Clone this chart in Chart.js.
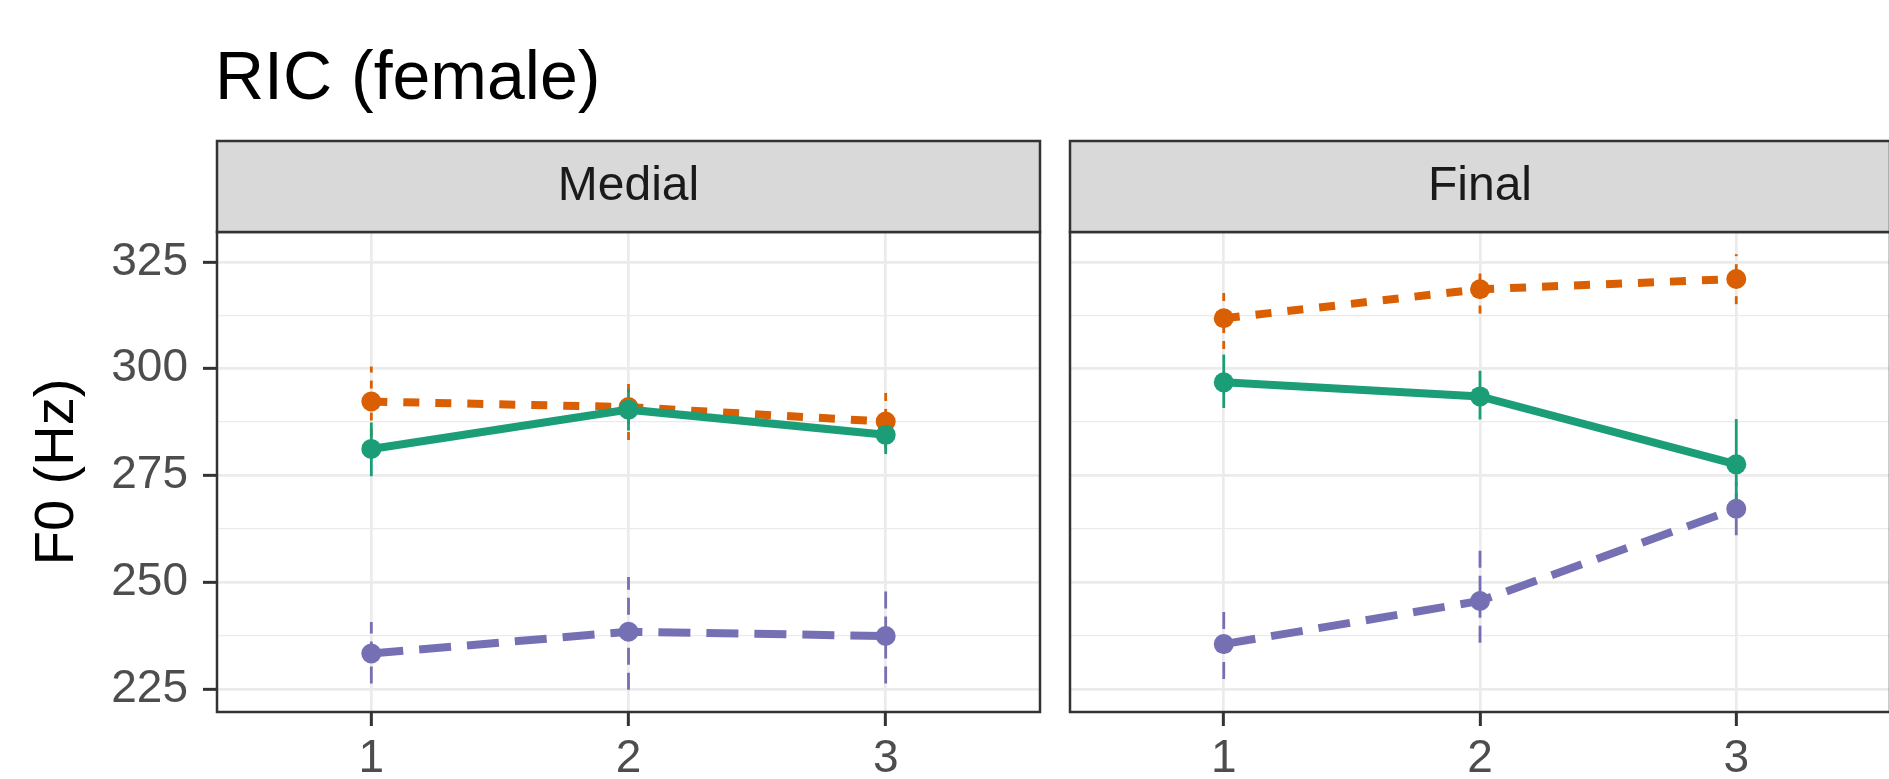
<!DOCTYPE html>
<html>
<head>
<meta charset="utf-8">
<script src="https://cdn.jsdelivr.net/npm/chart.js@4"></script>
<style>
  html, body { margin: 0; padding: 0; background: #fff; overflow: hidden; }
  #left { position: absolute; left: 0; top: 0; }
  #right { position: absolute; left: 1055px; top: 0; }
</style>
</head>
<body>
<canvas id="left" width="1055" height="779"></canvas>
<canvas id="right" width="845" height="779"></canvas>
<script>
// --- data ---
const plotTitle = 'RIC (female)';
const yTitle = 'F0 (Hz)';
const panels = ['Medial', 'Final'];
const positions = [1, 2, 3];
const xTickLabels = ['1', '2', '3'];
const yMajor = [225, 250, 275, 300, 325];
const yMinor = [237.5, 262.5, 287.5, 312.5];

// Medial
const medialGreen = [281.2, 290.4, 284.5];
const medialGreenLo = [274.8, 285.5, 280.0];
const medialGreenHi = [287.4, 295.3, 288.8];
const medialOrange = [292.3, 291.0, 287.6];
const medialOrangeLo = [284.1, 283.3, 281.2];
const medialOrangeHi = [300.5, 298.0, 294.5];
const medialPurple = [233.3, 238.4, 237.4];
const medialPurpleLo = [226.3, 224.8, 226.3];
const medialPurpleHi = [240.7, 251.2, 248.9];

// Final
const finalGreen = [296.8, 293.5, 277.6];
const finalGreenLo = [290.8, 288.1, 266.8];
const finalGreenHi = [303.3, 299.5, 288.2];
const finalOrange = [311.8, 318.6, 321.0];
const finalOrangeLo = [304.6, 312.9, 315.1];
const finalOrangeHi = [318.6, 324.1, 326.8];
const finalPurple = [235.5, 245.6, 267.2];
const finalPurpleLo = [227.3, 235.8, 261.0];
const finalPurpleHi = [243.3, 257.6, 273.4];

const styles = {
  green:  { color: '#1B9E77', dash: [],       errDash: [] },
  orange: { color: '#D95F02', dash: [16, 16], errDash: [8, 8] },
  purple: { color: '#7570B3', dash: [32, 16], errDash: [17, 8] }
};

Chart.defaults.font.family = '"Liberation Sans", Arial, sans-serif';

function buildDatasets(groups) {
  const lines = [], bars = [], points = [];
  groups.forEach(g => {
    const st = styles[g.key];
    const pts = positions.map((x, i) => ({ x: x, y: g.mean[i] }));
    lines.push({
      data: pts, borderColor: st.color, borderWidth: 8, borderDash: st.dash,
      pointRadius: 0, fill: false, order: 30
    });
    positions.forEach((x, i) => {
      bars.push({
        data: [{ x: x, y: g.lo[i] }, { x: x, y: g.hi[i] }],
        borderColor: st.color, borderWidth: 2.8, borderDash: st.errDash,
        pointRadius: 0, fill: false, order: 20
      });
    });
    points.push({
      data: pts, showLine: false, pointRadius: 10, pointBorderWidth: 0,
      pointBackgroundColor: st.color, borderColor: st.color, order: 10
    });
  });
  return lines.concat(bars, points);
}

// strip, panel border and title
const facetPlugin = {
  id: 'facet',
  afterDraw(chart, args, opts) {
    const { ctx, chartArea: a } = chart;
    const stripH = 91;
    ctx.save();
    ctx.strokeStyle = '#333333';
    ctx.lineWidth = 2.5;
    ctx.strokeRect(a.left, a.top, a.right - a.left, a.bottom - a.top);
    const top = a.top - stripH;
    ctx.fillStyle = '#D9D9D9';
    ctx.fillRect(a.left, top, a.right - a.left, stripH);
    ctx.strokeRect(a.left, top, a.right - a.left, stripH);
    ctx.fillStyle = '#1A1A1A';
    ctx.font = '48px "Liberation Sans", Arial, sans-serif';
    ctx.textAlign = 'center';
    ctx.textBaseline = 'middle';
    ctx.fillText(opts.strip, (a.left + a.right) / 2, top + stripH / 2);
    if (opts.title) {
      ctx.fillStyle = '#000000';
      ctx.font = '68px "Liberation Sans", Arial, sans-serif';
      ctx.textAlign = 'left';
      ctx.textBaseline = 'alphabetic';
      ctx.fillText(opts.title, a.left - 2, 99);
    }
    ctx.restore();
  }
};

const yTicks = yMajor.concat(yMinor).sort((a, b) => a - b);

function makeChart(id, panel, groups, first) {
  return new Chart(document.getElementById(id), {
    type: 'line',
    data: { datasets: buildDatasets(groups) },
    plugins: [facetPlugin],
    options: {
      responsive: false,
      animation: false,
      layout: { padding: { top: 232, right: first ? 15 : 6, left: 0, bottom: 0 } },
      plugins: {
        legend: { display: false },
        tooltip: { enabled: false },
        facet: { strip: panel, title: first ? plotTitle : null }
      },
      scales: {
        x: {
          type: 'linear', min: 0.4, max: 3.6,
          afterBuildTicks: s => { s.ticks = positions.map(v => ({ value: v })); },
          afterFit: s => { s.height = 67; },
          ticks: {
            autoSkip: false, maxRotation: 0, padding: 6,
            color: '#4D4D4D', font: { size: 46 },
            callback: (v, i) => xTickLabels[i]
          },
          grid: {
            color: '#EBEBEB', lineWidth: 2.7,
            tickLength: 14, tickColor: '#333333', tickWidth: 3
          },
          border: { display: false }
        },
        y: {
          type: 'linear', min: 219.6, max: 332,
          afterBuildTicks: s => { s.ticks = yTicks.map(v => ({ value: v })); },
          afterFit: s => { s.width = first ? 217 : 15; },
          ticks: {
            display: first, autoSkip: false, padding: 15,
            color: '#4D4D4D', font: { size: 46 },
            callback: v => yMajor.includes(v) ? String(v) : ''
          },
          grid: {
            color: '#EBEBEB',
            lineWidth: c => yMajor.includes(c.tick.value) ? 2.7 : 1.3,
            drawTicks: first,
            tickLength: 14, tickWidth: 3,
            tickColor: c => yMajor.includes(c.tick.value) ? '#333333' : 'rgba(0,0,0,0)'
          },
          border: { display: false },
          title: {
            display: first, text: yTitle, color: '#000000',
            font: { size: 56 }, padding: { top: 24, bottom: 0 }
          }
        }
      }
    }
  });
}

makeChart('left', panels[0], [
  { key: 'green', mean: medialGreen, lo: medialGreenLo, hi: medialGreenHi },
  { key: 'orange', mean: medialOrange, lo: medialOrangeLo, hi: medialOrangeHi },
  { key: 'purple', mean: medialPurple, lo: medialPurpleLo, hi: medialPurpleHi }
], true);

makeChart('right', panels[1], [
  { key: 'green', mean: finalGreen, lo: finalGreenLo, hi: finalGreenHi },
  { key: 'orange', mean: finalOrange, lo: finalOrangeLo, hi: finalOrangeHi },
  { key: 'purple', mean: finalPurple, lo: finalPurpleLo, hi: finalPurpleHi }
], false);
</script>
</body>
</html>
